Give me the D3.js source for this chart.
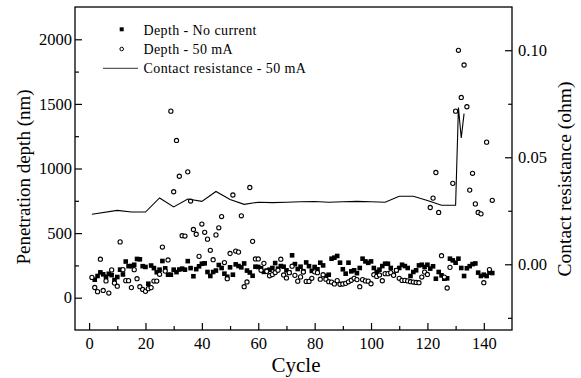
<!DOCTYPE html>
<html><head><meta charset="utf-8">
<script src="https://cdn.jsdelivr.net/npm/d3@7"></script>
<style>
html,body{margin:0;padding:0;background:#fff;}
svg{display:block;font-family:"Liberation Serif","Times New Roman",serif;}
</style></head>
<body><svg id="chart" width="581" height="378"></svg>
<script>
// ---- data ----
const noCurrentFirstCycle = 2;
const noCurrentDepth = [
 139,168,196,181,162,185,175,137,160,217,
 180,280,244,245,255,300,297,244,238,108,
 249,229,197,217,284,227,178,178,217,198,
 218,225,217,283,229,166,221,243,263,266,
 199,168,199,210,253,230,186,162,235,178,
 258,245,235,265,210,195,170,240,238,228,
 200,210,217,230,268,225,245,240,212,195,
 328,260,222,240,205,273,244,208,238,220,
 271,250,168,178,302,310,323,271,220,186,
 271,204,212,190,230,302,281,270,281,230,
 200,217,245,263,263,230,178,212,230,255,
 245,230,168,199,212,250,255,238,255,225,
 243,147,199,173,147,150,302,289,271,302,
 230,168,228,244,260,265,194,168,178,168,
 194,191];
const ma50FirstCycle = 1;
const ma50Depth = [
 157,79,47,298,56,130,36,215,113,89,
 432,217,132,132,78,217,147,85,64,49,
 70,78,129,129,181,392,206,292,1444,820,
 1217,940,480,477,974,748,528,491,320,570,
 506,453,367,294,486,541,628,272,147,342,
 795,361,353,634,85,122,853,436,300,300,
 212,266,204,170,179,195,212,298,176,153,
 194,244,173,128,161,199,126,126,150,200,
 194,143,178,143,124,121,107,132,104,106,
 111,123,135,150,140,85,140,130,128,108,
 178,165,176,131,186,186,194,173,212,150,
 134,134,130,124,121,118,116,160,198,180,
 698,771,969,660,325,160,75,235,885,1444,
 1915,1550,1801,1478,833,963,726,660,649,116,
 1204,218,754];
const resCycles = [1,10,15,20,25,30,35,40,45,50,55,60,65,70,75,80,85,90,95,100,105,110,115,120,125,130,131,132,133];
const resValues = [0.0234,0.0252,0.0244,0.0244,0.031,0.0268,0.0305,0.0294,0.034,0.0303,0.028,0.029,0.0288,0.029,0.0292,0.0293,0.029,0.0292,0.0294,0.0292,0.029,0.0318,0.0318,0.0298,0.0276,0.0276,0.0732,0.059,0.0704];
const xTicks = [0,20,40,60,80,100,120,140];
const xMinor = [10,30,50,70,90,110,130,150];
const yLTicks = [0,500,1000,1500,2000];
const yLMinor = [-250,250,750,1250,1750];
const yRTicks = [0,0.05,0.10];
const yRMinor = [-0.025,0.025,0.075];
const legendLabels = ["Depth - No current","Depth - 50 mA","Contact resistance - 50 mA"];
const xTitle = "Cycle", yLTitle = "Penetration depth (nm)", yRTitle = "Contact resistance (ohm)";

// ---- layout ----
const L=75, R=512, T=7, B=330;
const svg = d3.select("#chart");
const x = d3.scaleLinear().domain([-5,150]).range([L,R]);
const yL = d3.scaleLinear().domain([-250,2250]).range([B,T]);
const yR = d3.scaleLinear().domain([-0.0307,0.1202]).range([B,T]);

function styleAxis(g, fs){
  g.select(".domain").remove();
  g.selectAll("line").attr("stroke","#000").attr("stroke-width",1.2);
  g.selectAll("text").attr("fill","#000").style("font-size",fs+"px")
   .style("font-family",'"Liberation Serif","Times New Roman",serif');
}
// x axis
svg.append("g").attr("transform",`translate(0,${B})`)
  .call(d3.axisBottom(x).tickValues(xTicks).tickSize(-7).tickPadding(7).tickFormat(d3.format("d")))
  .call(g=>styleAxis(g,16.5));
svg.append("g").attr("transform",`translate(0,${B})`)
  .call(d3.axisBottom(x).tickValues(xMinor.filter(v=>v<150)).tickSize(-4).tickFormat(""))
  .call(g=>styleAxis(g,16));
// left axis
svg.append("g").attr("transform",`translate(${L},0)`)
  .call(d3.axisLeft(yL).tickValues(yLTicks).tickSize(-7).tickPadding(3).tickFormat(d3.format("d")))
  .call(g=>styleAxis(g,16.5));
svg.append("g").attr("transform",`translate(${L},0)`)
  .call(d3.axisLeft(yL).tickValues(yLMinor.filter(v=>v>-250)).tickSize(-4).tickFormat(""))
  .call(g=>styleAxis(g,16));
// right axis
svg.append("g").attr("transform",`translate(${R},0)`)
  .call(d3.axisRight(yR).tickValues(yRTicks).tickSize(-7).tickPadding(6).tickFormat(d3.format(".2f")))
  .call(g=>styleAxis(g,16.5));
svg.append("g").attr("transform",`translate(${R},0)`)
  .call(d3.axisRight(yR).tickValues(yRMinor).tickSize(-4).tickFormat(""))
  .call(g=>styleAxis(g,16));
// frame
svg.append("rect").attr("x",L).attr("y",T).attr("width",R-L).attr("height",B-T)
  .attr("fill","none").attr("stroke","#000").attr("stroke-width",1.3);

// data marks
const sq = 4.6;
svg.append("g").selectAll("rect").data(noCurrentDepth).join("rect")
  .attr("x",(d,i)=>x(i+noCurrentFirstCycle)-sq/2).attr("y",d=>yL(d)-sq/2)
  .attr("width",sq).attr("height",sq).attr("fill","#000");
svg.append("g").selectAll("circle").data(ma50Depth).join("circle")
  .attr("cx",(d,i)=>x(i+ma50FirstCycle)).attr("cy",d=>yL(d)).attr("r",2.1)
  .attr("fill","#fff").attr("stroke","#000").attr("stroke-width",1.1);
const line = d3.line().x((d,i)=>x(resCycles[i])).y(d=>yR(d));
svg.append("path").datum(resValues).attr("d",line)
  .attr("fill","none").attr("stroke","#000").attr("stroke-width",1.1);

// legend
const lg = svg.append("g").style("font-size","14px").style("letter-spacing","0.4px");
lg.append("rect").attr("x",121.7-2).attr("y",29.3-2).attr("width",4).attr("height",4).attr("fill","#000");
lg.append("circle").attr("cx",121.7).attr("cy",49).attr("r",1.8).attr("fill","#fff").attr("stroke","#000").attr("stroke-width",1);
lg.append("line").attr("x1",103).attr("x2",138).attr("y1",68.3).attr("y2",68.3).attr("stroke","#000").attr("stroke-width",0.8);
[34.5,54,72.7].forEach((yy,i)=>lg.append("text").attr("x",143.5).attr("y",yy).text(legendLabels[i]));

// titles
svg.append("text").attr("x",296).attr("y",372).attr("text-anchor","middle").style("font-size","21px").text(xTitle);
svg.append("text").attr("transform","translate(30,177) rotate(-90)").attr("text-anchor","middle").style("font-size","19px").text(yLTitle);
svg.append("text").attr("transform","translate(571,179) rotate(-90)").attr("text-anchor","middle").style("font-size","19.5px").text(yRTitle);
</script>
</body></html>
